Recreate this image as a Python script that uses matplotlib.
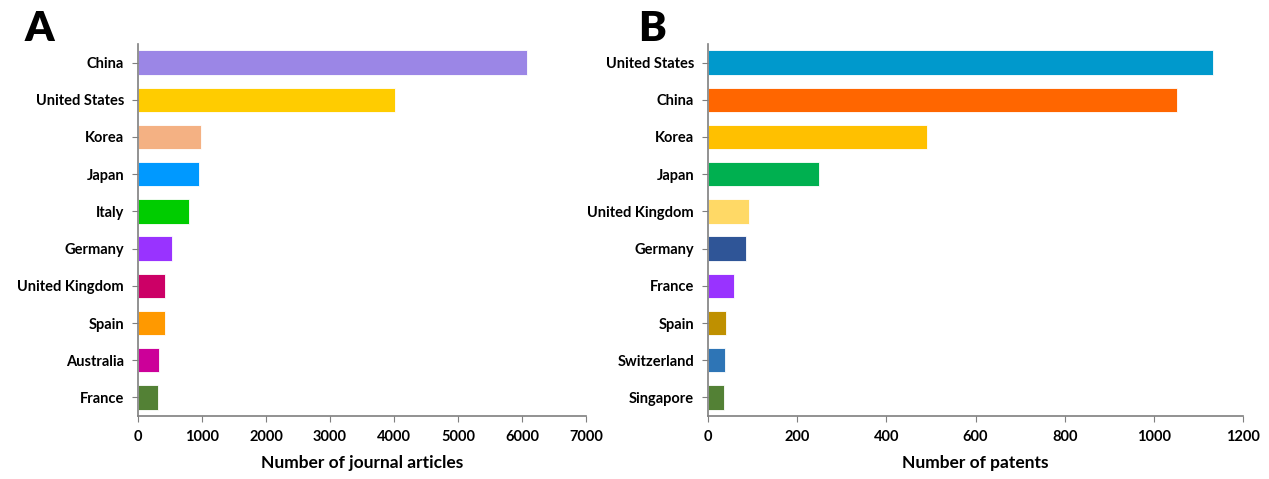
import matplotlib.pyplot as plt

# Panel A data - journal articles by country
countries_a = ['China', 'United States', 'Korea', 'Japan', 'Italy',
               'Germany', 'United Kingdom', 'Spain', 'Australia', 'France']
articles = [6080, 4010, 990, 950, 800, 530, 425, 420, 330, 315]
colors_a = ['#9B86E6', '#FFCC00', '#F4B183', '#0099FF', '#00CC00',
            '#9933FF', '#CC0066', '#FF9900', '#CC0099', '#538135']

# Panel B data - patents by country
countries_b = ['United States', 'China', 'Korea', 'Japan', 'United Kingdom',
               'Germany', 'France', 'Spain', 'Switzerland', 'Singapore']
patents = [1132, 1052, 491, 250, 92, 85, 59, 40, 38, 36]
colors_b = ['#0099CC', '#FF6600', '#FFC000', '#00B050', '#FFD966',
            '#2F5597', '#9933FF', '#BF9000', '#2E75B6', '#538135']

plt.rcParams['font.family'] = ['Lato', 'DejaVu Sans']
plt.rcParams['font.weight'] = 'bold'

fig = plt.figure(figsize=(12.69, 4.79), dpi=100)
W, H = 1269, 479
ax_a = fig.add_axes([138 / W, 1 - 416 / H, (586 - 138) / W, (416 - 44) / H])
ax_b = fig.add_axes([708 / W, 1 - 416 / H, (1243 - 708) / W, (416 - 44) / H])


def style(ax, cats, vals, cols, xmax, step, xlabel):
    ax.barh(range(len(cats)), vals, color=cols, height=0.66,
            edgecolor='white', linewidth=0.6)
    ax.set_ylim(len(cats) - 0.5, -0.5)
    ax.set_yticks(range(len(cats)))
    ax.set_yticklabels(cats, fontsize=10.5, fontweight='bold')
    ax.set_xlim(0, xmax)
    ax.set_xticks(range(0, xmax + 1, step))
    ax.tick_params(axis='x', labelsize=10.5, length=4, color='#7f7f7f', pad=6)
    ax.tick_params(axis='y', length=4, color='#7f7f7f', pad=6)
    for lab in ax.get_xticklabels():
        lab.set_fontweight('bold')
    ax.set_xlabel(xlabel, fontsize=12.5, fontweight='bold', labelpad=8)
    for s in ['top', 'right']:
        ax.spines[s].set_visible(False)
    for s in ['left', 'bottom']:
        ax.spines[s].set_color('#7f7f7f')
        ax.spines[s].set_linewidth(1.2)


style(ax_a, countries_a, articles, colors_a, 7000, 1000, 'Number of journal articles')
style(ax_b, countries_b, patents, colors_b, 1200, 200, 'Number of patents')

fig.text(25 / W, 1 - 41 / H, 'A', fontsize=30, fontweight='heavy')
fig.text(638 / W, 1 - 41 / H, 'B', fontsize=30, fontweight='heavy')

fig.savefig('out.png', dpi=100, facecolor='white')
